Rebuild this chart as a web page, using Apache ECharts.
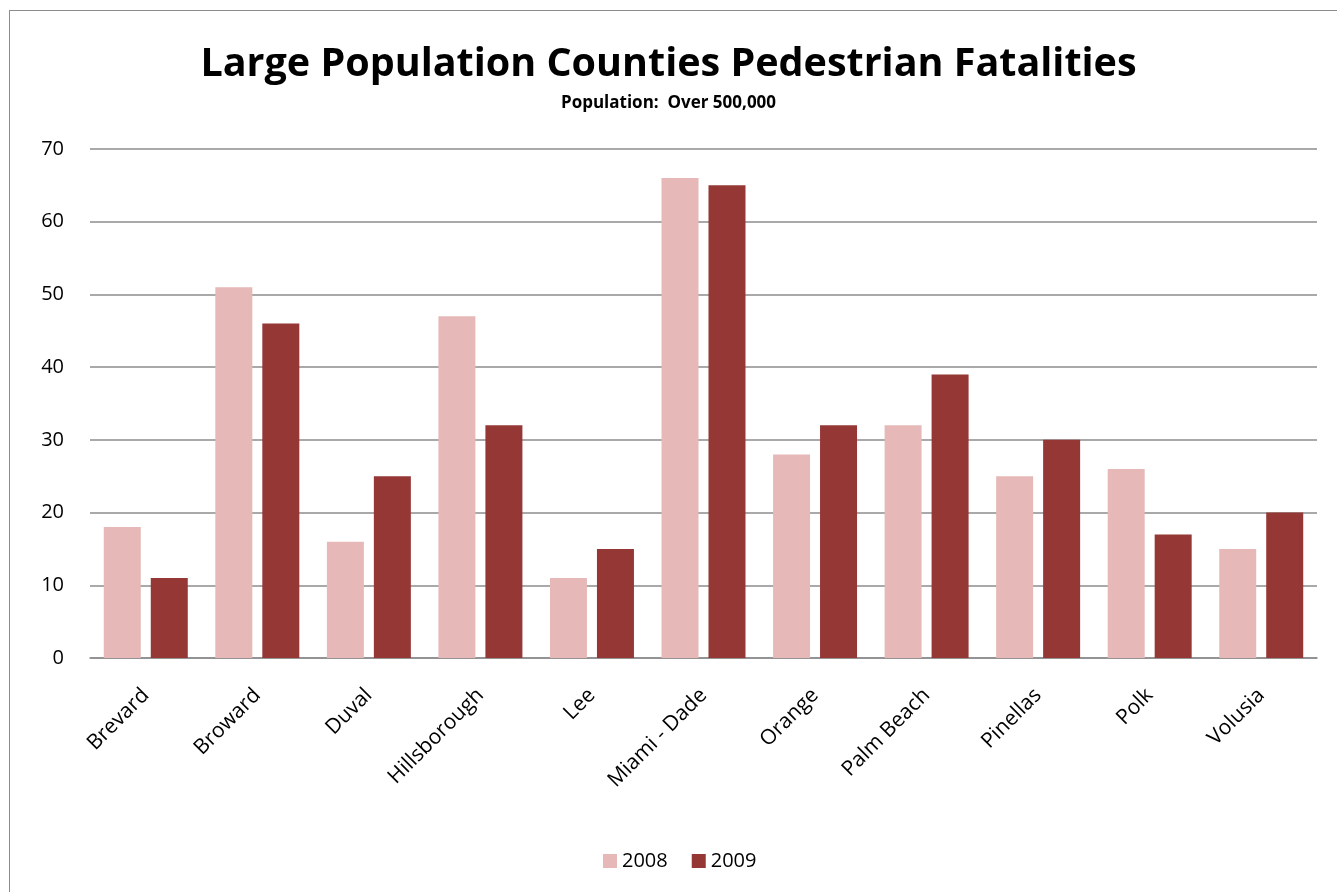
<!DOCTYPE html>
<html><head><meta charset="utf-8">
<script src="https://cdn.jsdelivr.net/npm/echarts@6/dist/echarts.min.js"></script>
<style>html,body{margin:0;padding:0;background:#fff;overflow:hidden;width:1337px;height:892px}#c{width:1337px;height:892px}
#frame{position:absolute;left:9px;top:10px;width:1340px;height:900px;border:1.5px solid #8c8c8c;box-sizing:border-box;pointer-events:none}</style>
</head><body><div id="c"></div><div id="frame"></div>
<script>
const categories = ['Brevard','Broward','Duval','Hillsborough','Lee','Miami - Dade','Orange','Palm Beach','Pinellas','Polk','Volusia'];
const seriesNames = ['2008','2009'];
const values2008 = [18,51,16,47,11,66,28,32,25,26,15];
const values2009 = [11,46,25,32,15,65,32,39,30,17,20];
const yTicks = {min:0,max:70,interval:10};
const font = 'Open Sans, Noto Sans, sans-serif';
const chart = echarts.init(document.getElementById('c'));
chart.setOption({
  animation:false,
  title:{text:'Large Population Counties Pedestrian Fatalities',subtext:'Population:  Over 500,000',left:'center',top:40,itemGap:10,
    textStyle:{fontFamily:font,fontWeight:'bold',fontSize:39.5,color:'#000'},
    subtextStyle:{fontFamily:font,fontWeight:'bold',fontSize:17,color:'#000'},
    padding:[5,0,5,16]},
  legend:{bottom:16,left:598,itemWidth:14,itemHeight:14,itemGap:24,icon:'rect',
    textStyle:{fontFamily:font,fontSize:20,color:'#000'},data:seriesNames},
  grid:{left:90,right:20,top:149,bottom:234,containLabel:false},
  xAxis:{type:'category',data:categories,axisTick:{show:false},
    axisLine:{lineStyle:{color:'#8c8c8c',width:1.5}},
    axisLabel:{rotate:45,interval:0,margin:34,fontFamily:font,fontSize:21,color:'#000'}},
  yAxis:{type:'value',min:yTicks.min,max:yTicks.max,interval:yTicks.interval,
    axisLine:{show:false},axisTick:{show:false},
    splitLine:{lineStyle:{color:'#8c8c8c',width:1.5}},
    axisLabel:{margin:26,fontFamily:font,fontSize:20,color:'#000'}},
  series:[
    {name:seriesNames[0],type:'bar',data:values2008,barWidth:37,barGap:'27%',itemStyle:{color:'#E6B9B8'}},
    {name:seriesNames[1],type:'bar',data:values2009,barWidth:37,itemStyle:{color:'#953735'}}
  ]
});
</script></body></html>
